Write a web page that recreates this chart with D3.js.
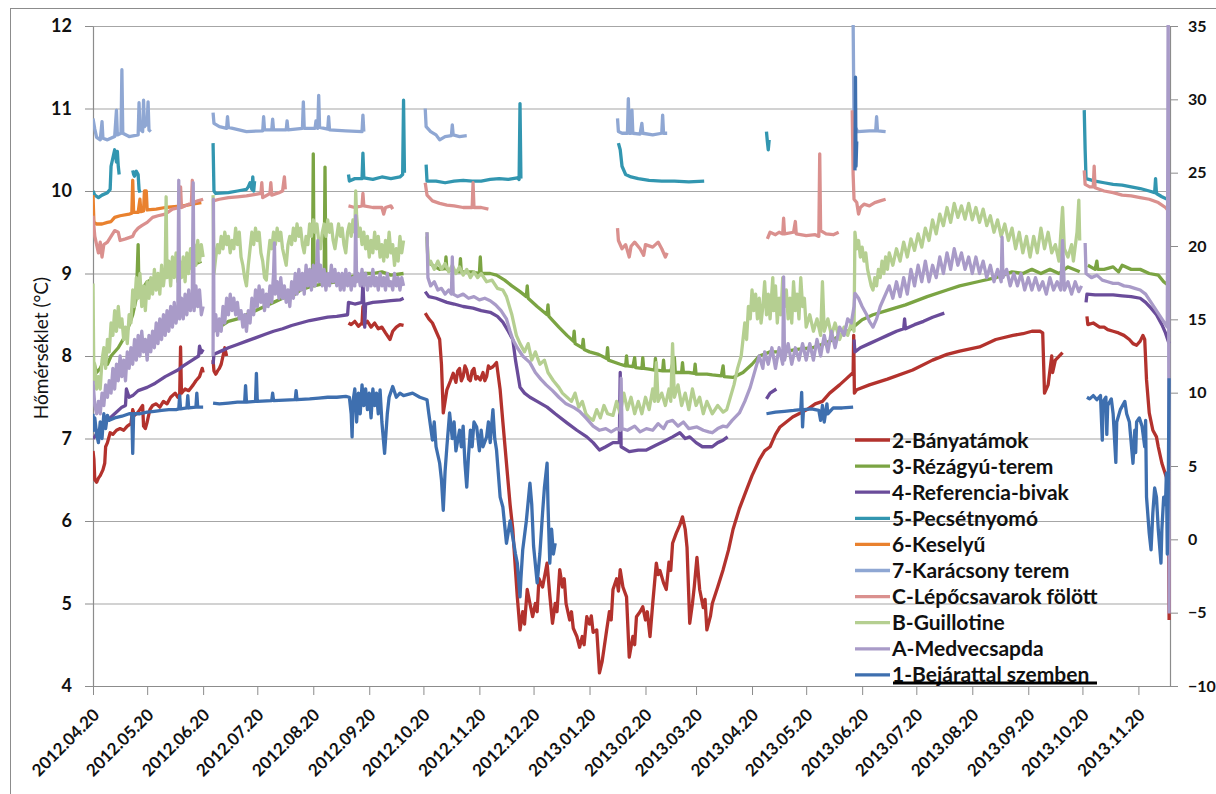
<!DOCTYPE html>
<html><head><meta charset="utf-8">
<script src="https://cdn.jsdelivr.net/npm/d3@7"></script>
<style>
body{margin:0;background:#fff}
svg{display:block}
text{font-family:Lato,"Open Sans","DejaVu Sans",sans-serif;fill:#111}
</style>
</head><body>
<svg id="chart" width="1216" height="794"></svg>
<script>
// ---------------- DATA ----------------
const startDate = "2012.04.20";
const endDay = 596.5;                       // days after startDate shown on the axis
const tickLabels = ["2012.04.20","2012.05.20","2012.06.20","2012.07.20","2012.08.20","2012.09.20","2012.10.20","2012.11.20","2012.12.20","2013.01.20","2013.02.20","2013.03.20","2013.04.20","2013.05.20","2013.06.20","2013.07.20","2013.08.20","2013.09.20","2013.10.20","2013.11.20"];
const leftTicks = [4,5,6,7,8,9,10,11,12];
const rightTicks = [-10,-5,0,5,10,15,20,25,30,35];
const seriesNames = ["2-Bányatámok","3-Rézágyú-terem","4-Referencia-bivak","5-Pecsétnyomó","6-Keselyű","7-Karácsony terem","C-Lépőcsavarok fölött","B-Guillotine","A-Medvecsapda","1-Bejárattal szemben"];
const seriesColors = ["#B3322D","#7BA443","#6A4C9A","#3296B0","#E9812E","#8FA7D3","#DA908E","#B5CF91","#A99BC8","#3E6FAF"];
const yTitle = "Hőmérséklet (°C)";

// [day after startDate, °C]; null = gap in the record
const s2 = [[0,6.85],[0.5,6.75],[1,6.5],[2,6.47],[3,6.52],[4,6.55],[5.5,6.62],[6.5,6.7],[7,6.9],[8,6.95],[9.5,7.07],[11,7.05],[13,7.1],[15,7.12],[17,7.1],[19,7.15],[21,7.18],[22,7.35],[23,7.28],[25,7.32],[27.5,7.4],[28,7.15],[29,7.12],[30,7.2],[31.5,7.35],[33,7.4],[35,7.42],[37,7.38],[39,7.45],[41,7.42],[43,7.5],[45.5,7.55],[47,7.5],[48,7.52],[48.5,8.11],[49,7.55],[51,7.6],[53,7.58],[55.5,7.65],[57,7.7],[59,7.75],[60.5,7.85],[61,7.8],
 null,[66.5,7.95],[67,7.82],[68,7.78],[69,7.82],[70,7.85],[71,7.9],[72,8.0],[73,8.1],[74,8.0],
 null,[141.5,8.4],[143,8.38],[145,8.42],[147,8.36],[149,8.4],[149.5,8.6],[150,8.38],[152,8.42],[154,8.35],[156,8.4],[158,8.33],[160,8.35],[162,8.28],[164.5,8.2],[166,8.3],[168,8.35],[170,8.38],[172,8.37],
 null,[184,8.52],[186,8.45],[188,8.4],[190,8.3],[192,8.2],[193,7.9],[194,7.31],[195,7.45],[196,7.59],[198,7.7],[199.5,7.79],[201,7.68],[202,7.82],[203,7.85],[204,7.7],[205,7.75],[206,7.88],[207,7.83],[208,7.72],[209,7.7],[210,7.82],[211,7.85],[212,7.72],[213,7.75],[214.5,7.71],[216,7.8],[217,7.7],[218,7.75],[219,7.88],[220,7.85],[221.5,7.87],[223.5,7.92],[225.5,7.59],[227,7.2],[229,6.7],[231,6.2],[232.5,5.9],[234,5.4],[235,5.08],[236.5,4.68],[238,4.9],[239,4.75],[240.5,5.17],[242,5.0],[243.5,4.84],[245,5.0],[246,4.9],[247,5.3],[249,5.2],[251.5,5.49],[253,5.1],[254.5,4.76],[256,5.0],[257,4.9],[258.5,5.41],[260,5.2],[261,5.3],[262,5.0],[264,4.8],[265,4.9],[266,4.7],[268,4.6],[269.5,4.47],[271,4.6],[272,4.5],[273.5,4.84],[275,4.75],[276,4.85],[277,4.65],[279,4.68],[280.5,4.16],[282,4.3],[283,4.45],[284.5,4.68],[286,4.9],[287,4.8],[288,5.17],[290,5.3],[291,5.15],[292,5.41],[293.5,5.2],[295.5,5.08],[297,4.35],[299,4.6],[300,4.5],[301,4.84],[303,4.9],[304.5,4.96],[306,4.8],[307,4.9],[308.5,4.6],[310,5.0],[312,5.49],[313,5.35],[314,5.4],[316,5.25],[317.5,5.17],[319,5.5],[320,5.4],[321,5.73],[323,5.85],[325,5.95],[326.5,6.05],[328,5.9],[329,5.68],[330.5,4.76],[332,5.0],[333,5.2],[334.5,5.56],[336,5.17],[338,4.95],[339,5.05],[340,4.68],[342,4.85],[343,5.0],[346,5.2],[349,5.41],[352,5.65],[354.5,5.9],[358,6.15],[362,6.38],[365,6.55],[369,6.74],[372,6.85],[375,6.9],[378,7.05],[380.5,7.14],[384,7.2],[387.5,7.26],[391,7.3],[395.5,7.35],[400,7.42],[404,7.45],[408,7.55],[413.5,7.65],[417,7.72],[421,7.8],[421.3,8.25],[421.7,7.55],[423,7.59],[430,7.65],[440,7.72],[454,7.83],[465,7.95],[473,8.02],[480,8.06],[491,8.11],[500,8.2],[509.5,8.25],[515,8.27],[520,8.3],[524.5,8.3],[526,8.28],[527,7.55],[529,7.65],[531,8.0],[531.5,7.8],[533,7.95],[537,8.04],
 null,[550.5,8.48],[551,8.38],[554,8.4],[557.5,8.35],[560,8.35],[562,8.32],[565,8.3],[568,8.28],[571,8.25],[574,8.2],[576,8.15],[578,8.13],[580,8.18],[581.5,8.25],[582.5,8.2],[583.5,7.71],[585,7.31],[587,7.1],[589,7.02],[590,6.9],[592,6.7],[594.5,6.53],[595.5,6.3],[596,4.8]];

const s3 = [[0,7.95],[2,7.8],[4,7.85],[6,7.95],[8,7.9],[10,8.0],[14,8.1],[18,8.25],[22,8.5],[24,8.7],[25,9.35],[25.5,8.75],[30,8.9],[35,8.95],[40,9.0],[45,9.05],[50,9.05],[55,9.1],[60,9.15],
 null,[66.5,8.3],[70,8.35],[75,8.42],[80,8.45],[85,8.5],[90,8.55],[95,8.6],[100,8.65],[105,8.7],[110,8.72],[115,8.8],[121.5,8.85],[122,10.45],[122.5,8.85],[128,8.88],[128.5,10.29],[129,8.88],[135,8.9],[140,8.95],[145,8.97],[150,9.0],[155,9.0],[160,9.02],[165,8.98],[172,9.0],
 null,[185,9.45],[185.5,9.15],[188,9.1],[192,9.05],[195,9.06],[195.5,9.2],[196,9.05],[200,9.03],[203,9.02],[203.5,9.18],[204,9.02],[210,9.02],[214,9.0],[214.5,9.2],[215,9.0],[220,9.0],[223.5,8.98],[228,8.92],[232,8.85],[236.5,8.78],[240,8.72],[240.5,8.85],[241,8.7],[246,8.6],[251.5,8.5],[252,8.62],[252.5,8.48],[258,8.35],[262.5,8.25],[266,8.18],[266.5,8.3],[267,8.15],[271,8.1],[271.5,8.2],[272,8.08],[275,8.05],[280,8.02],[284.5,7.97],[285,8.1],[285.5,7.95],[292,7.9],[295,7.88],[295.5,8.0],[296,7.88],[299,7.87],[300,7.98],[300.5,7.86],[304,7.85],[304.5,7.98],[305,7.85],[308,7.84],[311,7.83],[311.5,7.97],[312,7.83],[315.5,7.82],[316,7.95],[316.5,7.82],[320,7.82],[322,7.98],[322.5,7.8],[326,7.8],[326.5,7.92],[327,7.8],[330,7.8],[333,7.79],[333.5,7.9],[334,7.78],[336,7.78],[340,7.78],[343,7.77],[348,7.76],[349,7.88],[349.5,7.75],[354.5,7.74],[360,7.8],[365,7.9],[369,8.0],[375,8.05],[382,8.05],[390,8.08],[398.5,8.1],[405,8.15],[410,8.2],[418,8.3],[421,8.35],[426,8.44],[432,8.5],[439.5,8.55],[450,8.62],[462,8.72],[473,8.8],[480,8.85],[490,8.9],[500,8.95],[509,9.02],[515,9.0],[520,9.05],[525,9.0],[530,9.05],[535,9.0],[540,9.08],[546.5,9.02],
 null,[551,9.1],[555,9.05],[556,9.15],[556.5,9.05],[560,9.05],[565,9.08],[568,9.02],[570,9.1],[575,9.05],[580,9.05],[585,9.0],[590,8.98],[593,8.9],[596,8.85]];

const s4 = [[0,7.0],[1,7.02],[3,7.1],[5,7.15],[8,7.22],[12,7.3],[16,7.38],[18,7.4],[18.5,7.6],[20,7.5],[22,7.52],[25,7.58],[30,7.62],[34.5,7.67],[40,7.75],[47,7.83],[50,7.88],[55,7.95],[58.5,8.0],[59,8.12],[60,8.04],[61,8.08],
 null,[66.5,7.9],[67,8.02],[70,8.05],[75,8.1],[80,8.14],[85,8.18],[90,8.22],[95,8.26],[100,8.3],[105,8.33],[110,8.37],[115,8.4],[120,8.43],[125,8.45],[130,8.47],[135,8.48],[141,8.5],[141.5,8.65],[145,8.63],[149,8.65],[149.5,8.9],[150,8.62],[150.5,8.35],[151,8.63],[155,8.65],[160,8.66],[165,8.67],[170,8.68],[172,8.7],
 null,[184,8.78],[186,8.72],[190,8.7],[196,8.65],[200,8.63],[205,8.6],[210.5,8.58],[215,8.55],[220,8.53],[224,8.48],[227,8.41],[230,8.3],[232.5,8.2],[234,7.95],[236.5,7.62],[239,7.55],[242,7.5],[246,7.45],[251.5,7.38],[256,7.3],[262.5,7.19],[268,7.1],[273.5,7.02],[277,6.95],[280.5,6.86],[284,6.9],[288,6.95],[291.5,6.95],[292,7.8],[292.5,6.9],[297,6.84],[302,6.86],[306.5,6.86],[312,6.92],[317.5,6.98],[321,7.02],[325,7.07],[328,7.0],[330.5,7.02],[334,6.95],[337.5,6.9],[343,6.9],[346,6.95],[349,6.98],[351.5,7.02],
 null,[373,7.48],[375,7.55],[378.5,7.6],
 null,[421.5,8.2],[422,8.05],[425,8.1],[430,8.15],[435,8.2],[440,8.25],[445,8.3],[449,8.33],[449.5,8.45],[450,8.33],[455,8.38],[460,8.42],[465,8.47],[471.5,8.52],
 null,[550,8.65],[550.5,8.75],[555,8.74],[560,8.74],[565,8.74],[570,8.73],[575,8.72],[580,8.7],[583,8.65],[586,8.58],[589,8.5],[592,8.38],[594,8.28],[596,8.15]];

const s5 = [[0,10.0],[1,9.95],[3,9.92],[5,9.95],[8,9.98],[9.5,10.02],[10,10.3],[11,10.4],[12,10.5],[13,10.35],[13.5,10.48],[14,10.3],[14.5,10.2],
 null,[22,10.25],[22.5,10.2],[23,10.18],[24,10.24],[25,10.2],[25.5,10.02],[26,9.98],
 null,[66.5,10.58],[67,10.0],[68,9.97],[75,9.98],[80,10.0],[85,10.02],[86,10.05],[87,10.1],[88,10.02],[88.5,10.17],[89,10.0],[89.5,10.12],
 null,[141.5,10.2],[142,10.12],[145,10.15],[149,10.15],[149.5,10.46],[150,10.16],[155,10.14],[160,10.17],[165,10.15],[170,10.17],[171.5,10.2],[172,11.1],[172.5,10.22],
 null,[184.5,10.32],[185,10.12],[190,10.12],[195,10.1],[200,10.12],[205,10.13],[210,10.12],[215,10.12],[220,10.14],[225,10.15],[230,10.14],[235,10.16],[236,10.14],[236.5,11.06],[237,10.15],
 null,[291,10.58],[292,10.5],[293,10.3],[295,10.2],[298,10.17],[302,10.15],[308,10.13],[315,10.12],[322,10.12],[330,10.11],[338.5,10.12],
 null,[373,10.72],[373.5,10.6],[374,10.5],[374.5,10.62],
 null,[549,10.98],[549.5,10.5],[550,10.15],[555,10.12],[560,10.1],[565,10.08],[570,10.07],[575,10.05],[580,10.03],[585,10.0],[588,9.98],[588.5,10.15],[589,9.97],[592,9.93],[595,9.9]];

const s6 = [[0,9.95],[0.5,9.62],[2,9.6],[5,9.6],[8,9.62],[10,9.63],[12,9.68],[15,9.7],[20,9.72],[21.5,9.73],[22,10.13],[22.5,9.74],[25,9.74],[26,9.9],[26.5,9.75],[28,9.76],[28.5,10.0],[29.5,10.0],[30,9.77],[35,9.78],[40,9.8],[45,9.81],[50,9.82],[55,9.84],[60,9.86]];

const s7 = [[0,10.88],[1,10.75],[2,10.65],[4,10.62],[5,10.84],[5.5,10.64],[8,10.62],[12,10.66],[13,10.98],[13.5,10.68],[15.5,10.7],[16,11.47],[16.5,10.7],[20,10.66],[25,10.68],[25.5,11.07],[26,10.75],[27.5,10.72],[28,11.1],[28.5,10.78],[30,10.82],[30.5,11.08],[31,10.74],[32,10.72],
 null,[66.5,10.95],[67,10.82],[70,10.78],[74,10.76],[74.5,10.9],[75,10.77],[85,10.72],[94,10.73],[94.5,10.9],[95,10.74],[99,10.74],[99.5,10.87],[100,10.74],[107,10.74],[107.5,10.85],[108,10.74],[116,10.76],[116.5,11.08],[117,10.76],[123,10.76],[123.5,10.85],[124.5,10.76],[125,11.16],[125.5,10.77],[130,10.75],[130.5,10.9],[131,10.74],[140,10.73],[149,10.72],[149.5,10.92],[150,10.72],
 null,[184,11.0],[184.5,10.78],[187,10.72],[190,10.68],[192,10.62],[195,10.66],[198.5,10.67],[199,10.8],[199.5,10.68],[203,10.66],[207,10.67],
 null,[290.5,10.88],[291,10.72],[293,10.7],[296,10.7],[296.5,11.12],[297,10.7],[298,10.7],[298.5,10.98],[299,10.7],[303,10.69],[304,10.82],[304.5,10.7],[310,10.68],[315,10.7],[315.5,10.92],[316,10.7],[318,10.7],
 null,[421,12.05],[421.5,10.8],[423.5,10.72],[430,10.73],[433.5,10.73],[434,10.9],[434.5,10.73],[439,10.72]];

const sC = [[0,9.7],[1,9.45],[2,9.35],[3,9.25],[4,9.38],[5,9.2],[6,9.35],[8,9.38],[10,9.45],[12,9.52],[14,9.5],[15,9.4],[18,9.42],[22,9.45],[23,9.5],[25,9.55],[27,9.58],[30,9.62],[33,9.68],[36,9.7],[40,9.72],[44,9.78],[48,9.8],[48.5,10.05],[49,9.8],[53,9.84],[54.5,9.85],[55,10.13],[55.5,9.86],[58,9.88],[61,9.9],
 null,[66.5,9.88],[70,9.9],[75,9.92],[80,9.93],[85,9.94],[90,9.96],[93,9.97],[93.5,10.1],[94,9.92],[98,9.97],[98.5,10.1],[99,9.95],[103,9.98],[105,10.0],[106,10.17],[106.5,10.02],
 null,[141.5,9.82],[145,9.8],[149,9.82],[149.5,9.97],[150,9.82],[155,9.8],[160,9.8],[161,9.72],[162,9.8],[165,9.82],[166,9.78],
 null,[184,10.1],[185,9.95],[188,9.88],[192,9.85],[196,9.83],[200,9.82],[205,9.8],[210,9.8],[210.5,10.1],[211,9.8],[215,9.8],[219,9.78],
 null,[290.5,9.55],[291,9.4],[293,9.3],[295,9.35],[297,9.2],[298,9.33],[300,9.38],[303,9.3],[305,9.22],[306,9.35],[310,9.32],[313,9.38],[315,9.3],[317,9.2],[318,9.25],
 null,[373.5,9.42],[375,9.5],[378,9.47],[380,9.5],[382,9.48],[382.5,9.67],[383,9.48],[388,9.5],[389,9.63],[389.5,9.48],[395,9.46],[400,9.47],[402,9.45],[402.5,10.45],[403,9.52],[406,9.48],[410,9.47],[413,9.5],
 null,[420.5,10.98],[421,10.2],[421.5,9.9],[423,9.86],[424,9.72],[425,9.8],[427,9.84],[430,9.82],[433,9.86],[436,9.88],[439,9.9],
 null,[549,10.25],[549.5,10.08],[552,10.05],[554,10.05],[554.5,10.3],[555,10.04],[560,10.0],[565,9.98],[570,9.95],[575,9.94],[580,9.92],[585,9.9],[590,9.86],[594,9.8],[596,9.75]];

const sB = [[0,8.88],[0.5,7.7],[1,7.9],[2,7.6],[3,7.75],[4,7.6],[5,7.95],[6,8.1],[7,7.85],[8,8.2],[9,8.05],[10,8.4],[11,8.25],[12,8.55],[13,8.3],[14,8.6],[15,8.35],[16,8.45],[17,8.2],[18,8.35],[19,8.15],[20,8.5],[21,8.4],[22,8.8],[23,8.6],[24,8.95],[25,8.7],[26,9.0],[27,8.6],[28,8.85],[29,8.55],[30,8.9],[31,8.7],[32,8.95],[33,8.75],[34,9.05],[35,8.8],[36,9.0],[37,8.75],[38,9.1],[39,8.85],[40,9.05],[40.5,9.93],[41,8.95],[42,9.15],[43,8.85],[44,9.2],[45,8.95],[46,9.25],[47,8.9],[48,9.15],[49,8.95],[50,9.2],[51,8.9],[52,9.25],[53,9.0],[54,9.3],[55,9.05],[56,9.35],[57,9.1],[58,9.4],[59,9.15],[60,9.35],[61,9.2],
 null,[66.5,9.95],[67,9.0],[68,9.2],[69,9.35],[70,9.25],[71,9.45],[72,9.3],[73,9.5],[74,9.35],[75,9.45],[76,9.25],[77,9.4],[78,9.3],[79,9.55],[80,9.35],[81,9.5],[82,9.2],[83,9.1],[84,8.95],[85,8.85],[86,9.1],[87,9.3],[88,9.5],[89,9.35],[90,9.55],[91,9.4],[92,9.5],[93,9.25],[94,9.15],[95,8.95],[96,8.92],[97,9.2],[98,9.4],[99,9.3],[100,9.5],[101,9.35],[102,9.55],[103,9.4],[104,9.5],[105,9.3],[106,9.2],[107,9.1],[108,9.35],[109,9.45],[110,9.35],[111,9.55],[112,9.4],[113,9.6],[114,9.45],[115,9.55],[116,9.35],[117,9.25],[118,9.45],[119,9.35],[120,9.6],[121,9.45],[122,9.65],[123,9.5],[124,9.6],[125,9.4],[126,9.3],[127,9.5],[128,9.6],[129,9.45],[130,9.65],[131,9.5],[132,9.6],[133,9.4],[134,9.3],[135,9.45],[136,9.6],[137,9.45],[138,9.55],[139,9.35],[140,9.25],[141,9.5],[142,9.6],[143,9.45],[144,9.65],[145,9.5],[145.5,10.0],[146,9.7],[147,9.45],[148,9.55],[149,9.35],[150,9.5],[151,9.3],[152,9.45],[153,9.2],[154,9.4],[155,9.25],[156,9.5],[157,9.3],[158,9.45],[159,9.2],[160,9.35],[161,9.15],[162,9.4],[163,9.2],[164,9.5],[165,9.25],[166,9.35],[167,9.1],[168,9.3],[169,9.15],[170,9.45],[171,9.25],[172,9.4],
 null,[185,9.5],[185.5,9.1],[187,9.15],[189,9.05],[191,9.15],[193,9.05],[195,9.12],[197,9.02],[199,9.1],[201,9.0],[203,9.08],[205,8.98],[207,9.05],[209,8.95],[211,9.02],[213,8.95],[215,9.0],[218,8.9],[221,8.92],[224,8.82],[227,8.8],[229,8.72],[232,8.5],[234.5,8.25],[236.5,8.15],[239,8.05],[241,8.15],[243,7.95],[245,8.05],[247.5,7.9],[250,7.95],[252,7.8],[255,7.7],[258,7.62],[260,7.55],[262.5,7.5],[265,7.45],[267,7.55],[269,7.38],[271,7.45],[273,7.3],[275,7.25],[277,7.22],[279,7.35],[281,7.25],[283,7.4],[285,7.3],[288,7.28],[290,7.45],[292,7.3],[294,7.55],[296,7.35],[298,7.5],[300,7.3],[302,7.45],[304,7.3],[306,7.5],[308,7.35],[310,7.6],[311,7.45],[312,7.92],[313,7.45],[315,7.55],[317,7.4],[319,7.6],[320,7.45],[321,8.15],[322,7.5],[324,7.65],[326,7.4],[328,7.55],[330,7.35],[332,7.6],[334,7.4],[336,7.5],[338,7.3],[340,7.45],[343,7.3],[346,7.4],[349,7.32],[351,7.35],[353,7.5],[355,7.65],[357,7.85],[359,8.0],[360,8.2],[361,8.4],[362,8.2],[363,8.6],[364,8.45],[365,8.8],[366,8.55],[367,8.75],[368,8.45],[369,8.7],[370,8.4],[371,8.6],[372,8.9],[373,8.5],[374,8.75],[375,8.45],[376.5,8.95],[377,8.55],[378,8.85],[379,8.4],[380,8.7],[381,8.5],[382,8.95],[383,8.6],[384,8.8],[385,8.45],[386,8.7],[387,8.4],[388,8.9],[389,8.55],[390,8.75],[391,8.45],[392,8.95],[393,8.6],[394,8.7],[395,8.35],[397,8.5],[399,8.3],[401,8.45],[403,8.25],[404,8.9],[405,8.3],[407,8.45],[409,8.25],[411,8.4],[413.5,8.2],[416,8.35],[418,8.25],[420,8.4],[421.5,8.3],[422,9.5],[423,9.3],[424,9.4],[425,9.2],[426,9.32],[427,9.15],[428,9.25],[429,9.05],[430,8.95],[431,8.85],[432,8.8],[433,8.95],[434,8.85],[435,9.05],[436,8.95],[437,9.15],[438,9.0],[439,9.2],[440,9.05],[441,9.25],[443,9.1],[445,9.3],[447,9.15],[449,9.38],[451,9.2],[453,9.42],[455,9.28],[457,9.48],[459,9.32],[461,9.55],[463,9.4],[465,9.65],[467,9.48],[469,9.72],[471,9.58],[473,9.8],[475,9.62],[477,9.85],[479,9.68],[481,9.82],[483,9.66],[485,9.85],[487,9.65],[489,9.8],[491,9.62],[493,9.78],[495,9.58],[497,9.7],[499,9.5],[501,9.65],[503,9.45],[505,9.6],[507,9.4],[509,9.55],[511,9.3],[513,9.5],[515,9.25],[517,9.45],[519,9.2],[521,9.45],[523,9.25],[525,9.55],[527,9.3],[529,9.5],[531,9.25],[533,9.35],[535,9.15],[537,9.8],[538,9.3],[540,9.2],[542,9.35],[543,9.15],[545,9.5],[546,9.89],[546.5,9.4]];

const sA = [[0,7.7],[1,7.4],[2,7.3],[3,7.45],[4,7.3],[5,7.55],[6,7.4],[7,7.65],[8,7.5],[9,7.7],[10,7.55],[11,7.85],[12,7.6],[13,7.9],[14,7.7],[15,8.0],[16,7.75],[17,7.95],[18,7.7],[19,8.05],[20,7.85],[21,8.1],[22,7.9],[23,8.2],[24,7.95],[25,8.25],[26,8.0],[27,8.3],[28,8.05],[29,8.2],[30,7.95],[31,8.25],[32,8.05],[33,8.3],[34,8.1],[35,8.4],[36,8.15],[37,8.45],[38,8.2],[39,8.5],[40,8.25],[41,8.55],[42,8.3],[43,8.6],[44,8.35],[45,8.65],[46,8.4],[47,8.6],[47.5,10.13],[48,8.45],[49,8.7],[50,8.45],[51,8.75],[52,8.5],[53,8.8],[54,8.55],[55,8.75],[55.5,10.1],[56,8.55],[57,8.85],[58,8.6],[59,8.8],[60,8.5],[61,8.6],
 null,[66.5,8.0],[66.7,9.9],[67,8.3],[68,8.5],[69,8.25],[70,8.45],[71,8.3],[72,8.6],[73,8.4],[74,8.7],[75,8.5],[76,8.75],[77,8.55],[78,8.7],[79,8.5],[80,8.65],[81,8.45],[82,8.55],[83,8.35],[84,8.5],[85,8.3],[86,8.55],[87,8.4],[88,8.7],[89,8.5],[90,8.8],[91,8.6],[92,8.85],[93,8.65],[94,8.8],[95,8.55],[96,8.75],[97,8.6],[98,8.85],[99,8.65],[100,9.0],[100.5,9.37],[101,8.75],[102,8.9],[103,8.7],[104,8.95],[105,8.7],[106,8.85],[107,8.65],[108,8.8],[109,8.6],[110,8.9],[111,8.7],[112,9.0],[113,8.75],[114,9.05],[115,8.8],[116,9.0],[117,8.75],[118,9.1],[119,8.85],[120,9.05],[121,8.8],[122,9.1],[123,8.85],[124,9.15],[124.5,9.4],[125,8.9],[126,9.1],[127,8.85],[128,9.05],[129,8.8],[130,9.0],[131,8.85],[132,9.1],[133,8.9],[134,9.05],[135,8.85],[136,9.0],[137,8.8],[138,9.0],[139,8.8],[140,9.05],[141,8.85],[142,9.0],[143,8.8],[144,8.95],[145,8.85],[145.5,9.7],[146,8.9],[147,9.0],[148,8.85],[149,9.05],[150,8.85],[151,9.0],[152,8.8],[153,8.95],[154,8.85],[155,9.05],[156,8.85],[157,8.95],[158,8.8],[159,9.0],[160,8.85],[161,8.95],[162,8.8],[163,9.0],[164,8.85],[165,8.9],[166,8.8],[167,9.0],[168,8.85],[169,8.95],[170,8.8],[171,8.95],[172,8.85],
 null,[185,9.5],[185.5,8.95],[187,8.85],[189,8.9],[191,8.8],[193,8.82],[195,8.75],[197,8.8],[198.5,8.75],[199,9.2],[199.5,8.75],[202,8.72],[205,8.75],[208,8.7],[211,8.72],[214,8.68],[217,8.7],[220,8.67],[223,8.62],[226,8.55],[229,8.45],[231,8.3],[232.5,8.2],[235,8.1],[238,8.0],[242,7.92],[245,7.8],[248,7.72],[251,7.65],[254.5,7.58],[258,7.5],[262,7.42],[266,7.38],[269.5,7.33],[273,7.25],[277,7.15],[280.5,7.1],[284,7.12],[287,7.08],[290,7.12],[292,7.1],[292.5,7.73],[293,7.12],[296,7.1],[300,7.15],[303,7.08],[306.5,7.12],[310,7.1],[313,7.18],[316,7.12],[318,7.2],[321,7.22],[324,7.15],[327,7.2],[330,7.12],[334.5,7.14],[338,7.1],[341,7.08],[343,7.07],[346,7.12],[349,7.15],[351,7.14],[354,7.22],[358,7.31],[361,7.45],[364,7.62],[367,7.85],[369,8.0],[371,7.85],[372,8.05],[374,7.9],[376,8.1],[378,7.85],[380,8.1],[382,7.9],[382.5,8.96],[383,7.95],[385,8.15],[387,7.9],[389,8.1],[391,7.95],[393,8.15],[395,7.95],[397,8.15],[399,7.95],[401,8.2],[403,8.0],[405,8.25],[407,8.05],[409,8.3],[411,8.1],[413.5,8.35],[416,8.25],[418,8.45],[420,8.4],[421.5,8.6],[422,8.76],[424,8.7],[426,8.6],[428.5,8.5],[430,8.42],[432,8.35],[434,8.45],[436,8.6],[438,8.7],[441,8.85],[443,8.7],[445,8.9],[447,8.72],[449,8.95],[451,8.75],[453,9.05],[455,8.85],[457,9.1],[459,8.9],[461,9.15],[463,8.9],[465,9.1],[467,8.95],[469,9.2],[471,9.0],[473,9.25],[475,9.05],[477,9.3],[479,9.1],[481,9.25],[483,9.05],[485,9.2],[487,9.0],[489,9.2],[491,9.0],[493,9.15],[495,8.95],[497,9.1],[499,8.9],[501,9.05],[503,8.9],[503.5,9.44],[504,8.95],[506,9.05],[508,8.85],[510,9.0],[512,8.85],[514,9.0],[516,8.8],[518,8.95],[520,8.8],[522,8.95],[524,8.8],[526,8.9],[528,8.75],[530,8.95],[532,8.8],[534,8.9],[536,8.8],[537,9.4],[538,8.8],[540,8.9],[542,8.75],[544,8.9],[546,8.78],[547.5,8.85],
 null,[549.5,9.37],[550,9.0],[553,8.95],[556,8.98],[559,8.92],[562,8.9],[565,8.88],[568,8.88],[571,8.85],[574,8.84],[577,8.82],[580,8.8],[583,8.75],[586,8.65],[589,8.55],[592,8.45],[595,8.35],[595.5,12.5],[596,4.88]];

const s1 = [[0,7.3],[0.5,7.1],[1,7.25],[2,7.05],[3,6.95],[4,7.2],[5,7.0],[6,7.3],[7,7.12],[8,7.28],[9,7.22],[12,7.25],[16,7.27],[20,7.3],[21.5,7.3],[22,6.82],[22.5,7.3],[26,7.3],[30,7.32],[34,7.33],[38,7.34],[42,7.35],[46,7.35],[47.5,7.36],[48,7.52],[48.5,7.36],[52,7.37],[52.5,7.52],[53,7.37],[57,7.38],[57.5,7.55],[58,7.38],[61,7.38],
 null,[66.5,7.43],[70,7.42],[75,7.43],[80,7.44],[84,7.44],[84.5,7.64],[85,7.44],[90,7.45],[90.5,7.79],[91,7.45],[99,7.46],[99.5,7.55],[100,7.46],[112,7.47],[112.5,7.58],[113,7.47],[120,7.48],[125,7.49],[130,7.5],[135,7.5],[140,7.51],[142,7.5],[143,7.3],[143.5,7.02],[144,7.45],[145,7.6],[146,7.2],[147,7.55],[148,7.3],[149,7.65],[150,7.4],[151,7.6],[152,7.35],[153,7.55],[154,7.25],[155,7.6],[156,7.4],[157,7.55],[158,7.3],[159,7.59],[160,7.2],[161.5,6.82],[163,7.3],[164,7.5],[166,7.63],[168,7.5],[170,7.55],[172,7.52],[177,7.55],[181,7.5],[185,7.47],[186,7.3],[188,6.98],[189,7.2],[190,6.9],[192,6.7],[193,6.5],[194,6.13],[195,6.6],[196,6.9],[197.5,7.31],[199,7.0],[200,7.2],[201,6.85],[203,7.1],[204,6.9],[205,7.15],[206,6.7],[207,6.41],[208,6.8],[209,7.1],[210,6.9],[211,7.2],[212.5,7.14],[214,6.85],[215,7.1],[216,6.9],[218,7.02],[219,7.2],[220,6.95],[221.5,7.35],[222.5,7.0],[223.5,6.86],[225.5,6.29],[227,6.17],[229,5.73],[231,6.0],[232.5,5.8],[234,5.6],[235,5.49],[236.5,5.08],[237,5.3],[238,5.65],[240,6.0],[242,6.46],[243,6.2],[244,5.7],[246,5.25],[247.5,5.6],[249,6.1],[250,6.4],[251.5,6.7],[252,6.2],[253,5.49],[254,5.9],[255,5.6],[256,5.73],
 null,[373,7.3],[378,7.32],[383,7.33],[388,7.34],[392,7.35],[392.5,7.56],[393,7.14],[393.5,7.35],[398,7.36],[402,7.34],[403,7.22],[404,7.4],[405,7.2],[406.5,7.42],[407,7.3],[410,7.37],[415,7.37],[421,7.38],
 null,[422,10.25],[422.3,11.38],[422.6,10.3],[423,10.6],
 null,[550.5,7.5],[552,7.48],[554,7.52],[556,7.47],[558,7.52],[559,6.98],[559.5,7.45],[561,7.5],[561.5,7.05],[562,7.4],[564,7.48],[565,7.3],[566.5,6.71],[567,7.2],[569,7.35],[571.5,7.45],[572.5,7.3],[574,7.2],[576,6.7],[577,7.1],[577.5,6.83],[578,7.2],[579.5,7.25],[581,7.15],[582.5,6.9],[583,7.22],[583.5,6.29],[585,5.85],[586,5.65],[587,6.1],[588,6.4],[589,6.29],[590,5.9],[591.5,5.49],[592,5.9],[593,6.29],[594,6.2],[594.5,6.58],[595,5.6],[595.5,6.3],[596,7.73]];

const seriesData = [s2, s3, s4, s5, s6, s7, sC, sB, sA, s1];

// ---------------- CHART ----------------
const svg = d3.select("#chart");
const M = {left: 93, right: 1170, top: 26, bottom: 686};
const parse = d3.utcParse("%Y.%m.%d");
const t0 = parse(startDate);
const toDate = d => new Date(t0.getTime() + d * 864e5);

const x = d3.scaleUtc().domain([t0, toDate(endDay)]).range([M.left, M.right]);
const yL = d3.scaleLinear().domain([4, 12]).range([M.bottom, M.top]);
const yR = d3.scaleLinear().domain([-10, 35]).range([M.bottom, M.top]);
const FONT = "Lato, 'Open Sans', sans-serif";

// chart-area border
svg.append("rect").attr("x", 10.5).attr("y", 8.5).attr("width", 1230).attr("height", 820)
  .attr("fill", "none").attr("stroke", "#8c8c8c").attr("stroke-width", 1);

// gridlines
const grid = svg.append("g").attr("transform", `translate(${M.left},0)`)
  .call(d3.axisLeft(yL).tickValues(leftTicks).tickSize(-(M.right - M.left)).tickFormat(""));
grid.select(".domain").remove();
grid.selectAll("line").attr("stroke", "#a6a6a6").attr("stroke-width", 1.2);

// left axis
const gL = svg.append("g").attr("transform", `translate(${M.left},0)`)
  .call(d3.axisLeft(yL).tickValues(leftTicks).tickSize(8).tickPadding(13).tickSizeOuter(0));
gL.select(".domain").attr("stroke", "#8c8c8c").attr("stroke-width", 1.2);
gL.selectAll("line").attr("stroke", "#8c8c8c");
gL.selectAll("text").attr("font-size", 18).attr("font-weight", 700)
  .attr("font-family", FONT).attr("fill", "#111");

// right axis
const gR = svg.append("g").attr("transform", `translate(${M.right},0)`)
  .call(d3.axisRight(yR).tickValues(rightTicks).tickSize(8).tickPadding(10).tickSizeOuter(0));
gR.select(".domain").attr("stroke", "#8c8c8c").attr("stroke-width", 1.2);
gR.selectAll("line").attr("stroke", "#8c8c8c");
gR.selectAll("text").attr("font-size", 16).attr("font-weight", 700)
  .attr("font-family", FONT).attr("fill", "#111");

// bottom axis
const tickDates = tickLabels.map(parse);
const gX = svg.append("g").attr("transform", `translate(0,${M.bottom})`)
  .call(d3.axisBottom(x).tickValues(tickDates).tickSize(9).tickSizeOuter(0).tickFormat((d, i) => tickLabels[i]));
gX.select(".domain").attr("stroke", "#8c8c8c").attr("stroke-width", 1.2);
gX.selectAll("line").attr("stroke", "#8c8c8c");
gX.selectAll("text")
  .attr("font-size", 17).attr("font-weight", 700)
  .attr("font-family", FONT).attr("fill", "#111")
  .attr("text-anchor", "end").attr("dy", null).attr("y", null)
  .attr("transform", "translate(7,30) rotate(-45)");

// y title
svg.append("text").attr("transform", `translate(48,348) rotate(-90)`)
  .attr("text-anchor", "middle").attr("font-size", 19).attr("font-family", FONT).text(yTitle);

// clip
svg.append("clipPath").attr("id", "plot").append("rect")
  .attr("x", M.left).attr("y", M.top - 1).attr("width", M.right - M.left + 1).attr("height", M.bottom - M.top + 1);

const line = d3.line().defined(d => d !== null)
  .x(d => x(toDate(d[0]))).y(d => yL(d[1]));

const gS = svg.append("g").attr("clip-path", "url(#plot)");
seriesData.forEach((data, i) => {
  gS.append("path").datum(data).attr("d", line)
    .attr("fill", "none").attr("stroke", seriesColors[i])
    .attr("stroke-width", 3.3).attr("stroke-linejoin", "round").attr("stroke-linecap", "butt");
});

// legend
const lg = svg.append("g");
const lgX = 855, lgY = 440, lgStep = 26.1;
seriesNames.forEach((name, i) => {
  const yy = lgY + i * lgStep;
  lg.append("line").attr("x1", lgX).attr("x2", lgX + 35).attr("y1", yy).attr("y2", yy)
    .attr("stroke", seriesColors[i]).attr("stroke-width", 3.3);
  lg.append("text").attr("x", lgX + 37).attr("y", yy).attr("dy", "0.36em")
    .attr("font-size", 21).attr("font-weight", 700).attr("font-family", FONT).text(name);
});
// underline below the last legend entry
lg.append("line").attr("x1", lgX + 38).attr("x2", 1097)
  .attr("y1", lgY + 9 * lgStep + 8).attr("y2", lgY + 9 * lgStep + 8)
  .attr("stroke", "#000").attr("stroke-width", 3);
</script>
</body></html>
